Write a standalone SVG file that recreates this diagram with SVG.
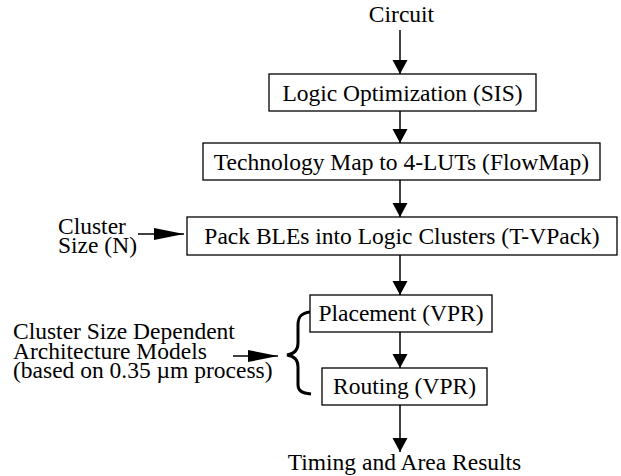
<svg xmlns="http://www.w3.org/2000/svg" width="621" height="476" viewBox="0 0 621 476">
<defs>
<style>
.t{font-family:'Liberation Serif','Times New Roman',serif;font-size:23.5px;fill:#000}
.box{fill:#fff;stroke:#000;stroke-width:1.3}
.c{text-anchor:middle}
.ln{stroke:#000;stroke-width:1.5;fill:none}
</style>
<marker id="av" markerUnits="userSpaceOnUse" markerWidth="15" markerHeight="16" refX="14" refY="7.5" orient="auto" viewBox="0 0 15 16">
<path d="M0,0 L14,7.5 L0,15 z" fill="#000"/>
</marker>
<marker id="ah" markerUnits="userSpaceOnUse" markerWidth="31" markerHeight="13" refX="30" refY="6" orient="auto" viewBox="0 0 31 13">
<path d="M0,0 L30,6 L0,12 z" fill="#000"/>
</marker>
</defs>
<rect width="621" height="476" fill="#fff"/>
<g id="connectors">
<line class="ln" x1="400" y1="30" x2="400" y2="74" marker-end="url(#av)"/>
<line class="ln" x1="400" y1="111" x2="400" y2="143" marker-end="url(#av)"/>
<line class="ln" x1="400" y1="180" x2="400" y2="217" marker-end="url(#av)"/>
<line class="ln" x1="400" y1="255" x2="400" y2="295" marker-end="url(#av)"/>
<line class="ln" x1="400" y1="332" x2="400" y2="368" marker-end="url(#av)"/>
<line class="ln" x1="400" y1="405" x2="400" y2="452" marker-end="url(#av)"/>
<line class="ln" x1="138" y1="234" x2="184" y2="234" marker-end="url(#ah)"/>
<line class="ln" x1="233" y1="356" x2="278" y2="356" marker-end="url(#ah)"/>
</g>
<g id="circuit"><text class="t c" x="401.5" y="22">Circuit</text></g>
<g id="logic-opt">
<rect class="box" x="269" y="74" width="267" height="37"/>
<text class="t c" x="402.5" y="101">Logic Optimization (SIS)</text>
</g>
<g id="tech-map">
<rect class="box" x="203" y="143" width="397" height="37"/>
<text class="t c" x="401.5" y="170">Technology Map to 4-LUTs (FlowMap)</text>
</g>
<g id="pack">
<rect class="box" x="187" y="217" width="430" height="38"/>
<text class="t c" x="402" y="244">Pack BLEs into Logic Clusters (T-VPack)</text>
</g>
<g id="cluster-size">
<text class="t" x="58" y="234">Cluster</text>
<text class="t" x="58" y="253">Size (N)</text>
</g>
<g id="arch-models">
<text class="t" x="13" y="339">Cluster Size Dependent</text>
<text class="t" x="13" y="359">Architecture Models</text>
<text class="t" x="13" y="378">(based on 0.35 µm process)</text>
</g>
<g id="brace">
<path d="M310,312 C301,313 298,317 298,325 L298,343 C298,350 294,354 287,355 C294,356 298,360 298,367 L298,385 C298,391 302,393 311,394" fill="none" stroke="#000" stroke-width="3"/>
</g>
<g id="placement">
<rect class="box" x="310" y="295" width="182" height="37"/>
<text class="t c" x="401" y="321">Placement (VPR)</text>
</g>
<g id="routing">
<rect class="box" x="322" y="368" width="165" height="37"/>
<text class="t c" x="404.5" y="394">Routing (VPR)</text>
</g>
<g id="results"><text class="t c" x="404.5" y="470">Timing and Area Results</text></g>
</svg>
